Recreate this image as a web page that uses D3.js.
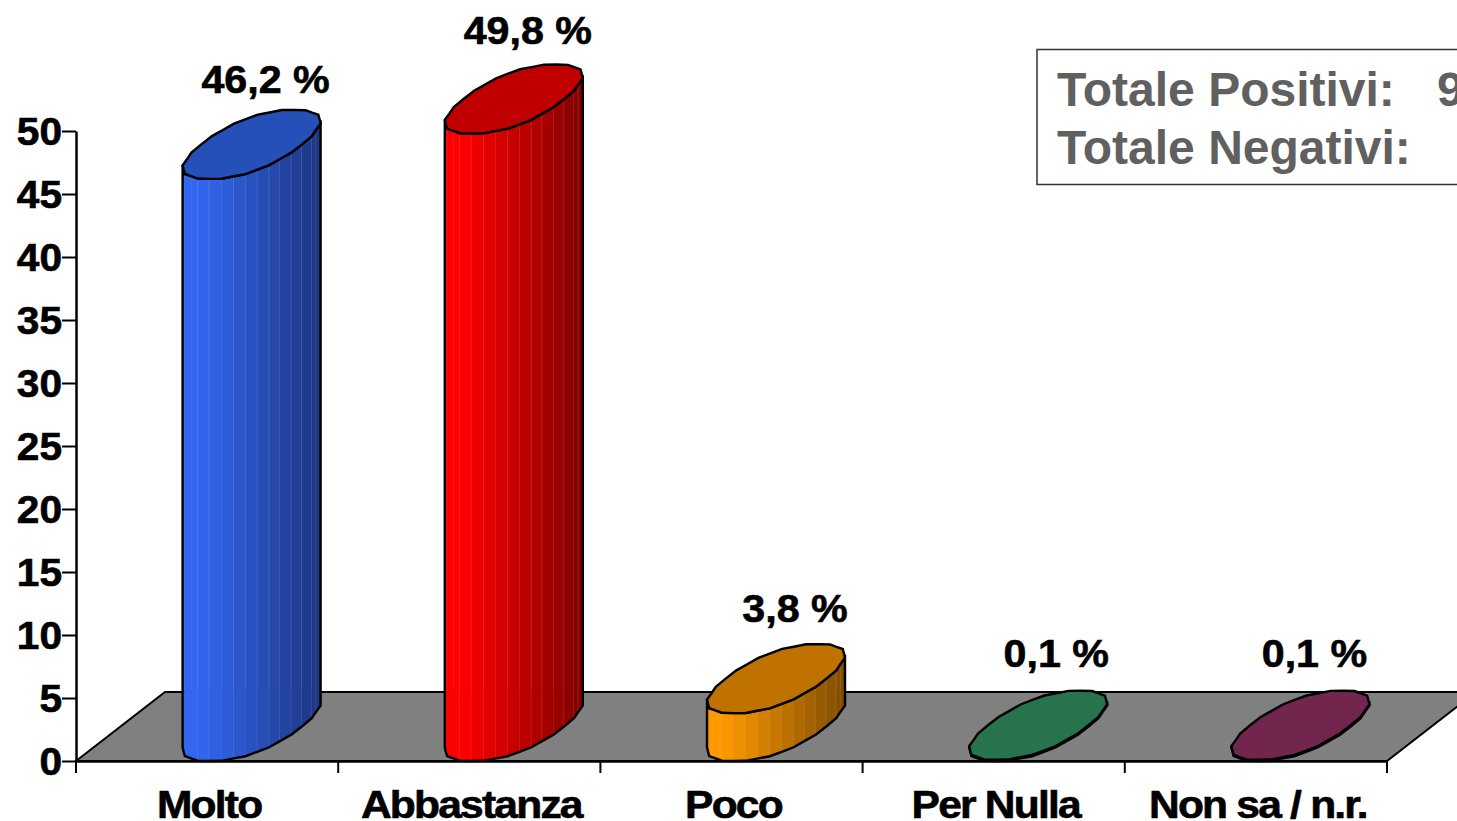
<!DOCTYPE html>
<html>
  <head>
    <meta charset="utf-8">
    <script src="https://d3js.org/d3.v7.min.js"></script>
    <title>Totale Positivi / Negativi</title>
    <style>
      body { margin: 0px; background: #fff; overflow: hidden; }
      svg { display: block; }
      text { font-family: "Liberation Sans", Arial, sans-serif; font-weight: bold; fill: #000; }
      .tick text, .cat-label, .val-label { font-size: 38px; stroke: #000; stroke-width: 0.6px; }
      .cat-label { letter-spacing: -1.6px; }
      .box-label { font-size: 48px; fill: #606060; }
    </style>
  </head>
  <body>
    <svg width="1457" height="821"></svg>
    <script>
      const categories = ['Molto', 'Abbastanza', 'Poco', 'Per Nulla', 'Non sa / n.r.'];
      const values = [46.2, 49.8, 3.8, 0.1, 0.1];
      const valueLabels = ['46,2 %', '49,8 %', '3,8 %', '0,1 %', '0,1 %'];
      const topColors = ['#2450b8', '#c00000', '#bf7200', '#26734d', '#73264d'];
      const sideLight = ['#3366f2', '#ff0000', '#ff9900', '#26734d', '#73264d'];
      const sideDark = ['#1c357f', '#800000', '#7f4c00', '#1a4d33', '#4d1a33'];
      const yTicks = d3.range(0, 51, 5);
      const boxLabels = ['Totale Positivi:', 'Totale Negativi:'];
      const boxValues = ['9', ''];

      const svg = d3.select('svg');

      const x = d3.scaleBand().domain(categories).range([76, 1387]);
      const y = d3.scaleLinear().domain([0, 50]).range([761, 131]);

      // oblique floor
      const depthX = 89, depthY = 69;
      const [x0, x1] = x.range();
      svg.append('path')
          .attr('d', d3.line()([[x0, y(0)], [x0 + depthX, y(0) - depthY], [x1 + depthX, y(0) - depthY], [x1, y(0)]]) + 'Z')
          .attr('fill', '#808080')
          .attr('stroke', '#000')
          .attr('stroke-width', 2);

      // cylinder section, sheared like the floor, a bit blunt and uneven like the original
      const a = 52.7, b = depthX / 2, c = depthY / 2;
      const facets = 32;
      const wobble = [0, 0.012, -0.01, 0.014, -0.006, 0.01, -0.012, 0.008];
      const blunt = v => Math.sign(v) * Math.pow(Math.abs(v), 0.88);
      const rawRing = d3.range(facets).map(i => {
        const t = i * 2 * Math.PI / facets;
        const r = 1 + wobble[i % wobble.length];
        const u = r * blunt(Math.cos(t)), v = r * blunt(Math.sin(t));
        return [-(a * u + b * v), c * v];
      });
      const left = d3.leastIndex(rawRing, p => p[0]);
      const widest = d3.max(rawRing, p => Math.abs(p[0]));
      const ring = d3.range(facets)
          .map(i => rawRing[(left + i) % facets])
          .map(p => [p[0] * 69 / widest, p[1]]);
      const frontArc = ring.slice(0, facets / 2 + 1);
      const line = d3.line();

      const bars = svg.selectAll('.bar').data(categories).enter().append('g')
          .attr('class', 'bar')
          .attr('transform', d => `translate(${x(d) + x.bandwidth() / 2 + depthX / 2},${y(0) - depthY / 2})`);

      bars.each(function(d, i) {
        const g = d3.select(this);
        const h = y(0) - y(values[i]);
        const color = d3.scaleLinear()
            .domain([0, 0.12, 1])
            .range([sideLight[i], sideLight[i], sideDark[i]]);
        const xs = d3.scaleLinear().domain(d3.extent(frontArc, p => p[0])).range([0, 1]);

        if (h > 4) {
          d3.pairs(frontArc).forEach(([p, q], k) => {
            const fill = color(xs((p[0] + q[0]) / 2));
            g.append('path')
                .attr('d', line([p, q, [q[0], q[1] - h], [p[0], p[1] - h]]) + 'Z')
                .attr('fill', fill)
                .attr('stroke', fill)
                .attr('stroke-width', 0.5);
            if (k > 2 && k < facets / 2 - 1) {
              g.append('line')
                  .attr('x1', q[0]).attr('x2', q[0])
                  .attr('y1', q[1]).attr('y2', q[1] - h)
                  .attr('stroke', '#fff')
                  .attr('stroke-opacity', 0.25);
            }
          });
        }

        const outline = frontArc.concat(frontArc.slice().reverse().map(p => [p[0], p[1] - h]));
        g.append('path')
            .attr('d', line(outline) + 'Z')
            .attr('fill', 'none')
            .attr('stroke', '#000')
            .attr('stroke-width', 2.4);

        g.append('path')
            .attr('d', line(ring.map(p => [p[0], p[1] - h])) + 'Z')
            .attr('fill', topColors[i])
            .attr('stroke', '#000')
            .attr('stroke-width', 2.4);
      });

      // value labels sit a little differently over each bar in the original
      const labelDx = [14, 14, 19, 18, 14];
      const labelDy = [86, 90, 91, 93, 93];
      svg.selectAll('.val-label').data(categories).enter().append('text')
          .attr('class', 'val-label')
          .attr('text-anchor', 'middle')
          .attr('transform', (d, i) =>
            `translate(${x(d) + x.bandwidth() / 2 + depthX / 2 + labelDx[i]},${y(values[i]) - labelDy[i]}) scale(1.085,1)`)
          .text((d, i) => valueLabels[i]);

      // axes
      const yAxisG = svg.append('g')
          .attr('transform', `translate(${x0},0)`)
          .call(d3.axisLeft(y).tickValues(yTicks).tickSize(14).tickSizeOuter(0));
      const xAxisG = svg.append('g')
          .attr('transform', `translate(0,${y(0)})`)
          .call(d3.axisBottom(x).tickValues([]).tickSizeOuter(0));
      xAxisG.selectAll('.tickmark').data(categories.map(d => x(d)).concat(x1)).enter()
          .append('line')
          .attr('class', 'tickmark')
          .attr('x1', d => d).attr('x2', d => d)
          .attr('y1', 0).attr('y2', 12)
          .attr('stroke', '#000').attr('stroke-width', 2);
      svg.selectAll('.domain').attr('stroke', '#000').attr('stroke-width', 2.5);
      yAxisG.selectAll('.tick line').attr('stroke', '#000').attr('stroke-width', 2);
      yAxisG.selectAll('.tick text')
          .attr('x', 0)
          .attr('transform', 'translate(-14,1.5) scale(1.07,1)');

      svg.selectAll('.cat-label').data(categories).enter().append('text')
          .attr('class', 'cat-label')
          .attr('text-anchor', 'middle')
          .attr('transform', d => `translate(${x(d) + x.bandwidth() / 2 + 2},818) scale(1.12,1)`)
          .text(d => d);

      // summary box, runs off the right edge
      svg.append('rect')
          .attr('x', 1037).attr('y', 49.5)
          .attr('width', 480).attr('height', 135)
          .attr('fill', '#fff')
          .attr('stroke', '#333')
          .attr('stroke-width', 1.5);
      boxLabels.forEach((l, i) => {
        svg.append('text').attr('class', 'box-label')
            .attr('x', 1057).attr('y', 106 + i * 58).text(l);
        svg.append('text').attr('class', 'box-label')
            .attr('x', 1437).attr('y', 106 + i * 58).text(boxValues[i]);
      });
    </script>
  </body>
</html>
